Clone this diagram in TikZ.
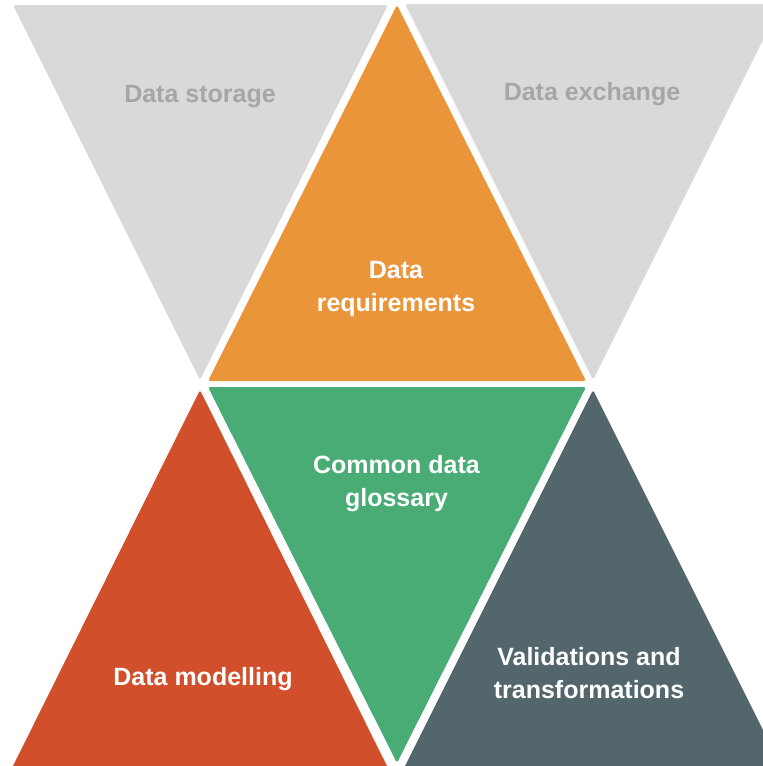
\documentclass[tikz,border=0pt]{standalone}
\usepackage{fontspec}
\setmainfont{Liberation Sans}
\definecolor{tgray}{HTML}{D9D9D9}
\definecolor{torange}{HTML}{EB953B}
\definecolor{tgreen}{HTML}{48AC74}
\definecolor{tred}{HTML}{D24F2B}
\definecolor{tslate}{HTML}{52666C}
\definecolor{lgray}{HTML}{A6A6A6}
\begin{document}
\begin{tikzpicture}[x=1pt,y=-1pt,
  tri/.style={rounded corners=2.5pt},
  lbl/.style={font=\fontsize{25}{33}\selectfont\bfseries, align=center, inner sep=0pt, anchor=base, text=white},
  glbl/.style={lbl, text=lgray}]
\useasboundingbox (0,0) rectangle (763,766);
\begin{scope}
\clip (0,0) rectangle (763,766);
\fill[tri, tgray] (13,5) -- (388,5) -- (200,380) -- cycle;
\fill[tri, tgray] (405,4) -- (781,4) -- (593,380) -- cycle;
\fill[tri, torange] (397,5) -- (586,381) -- (208,381) -- cycle;
\fill[tri, tgreen] (208,387) -- (586,387) -- (397,763) -- cycle;
\fill[tri, tred] (200,390) -- (390,772) -- (10,772) -- cycle;
\fill[tri, tslate] (593,390) -- (784,772) -- (402,772) -- cycle;
\end{scope}
\node[glbl] (storage) at (200,102) {Data storage};
\node[glbl] (exchange) at (592,100) {Data exchange};
\node[lbl] (req) at (396,311) {Data\\requirements};
\node[lbl] (gloss) at (396.5,506) {Common data\\glossary};
\node[lbl] (model) at (203,685) {Data modelling};
\node[lbl] (valid) at (589,698) {Validations and\\transformations};
\end{tikzpicture}
\end{document}
